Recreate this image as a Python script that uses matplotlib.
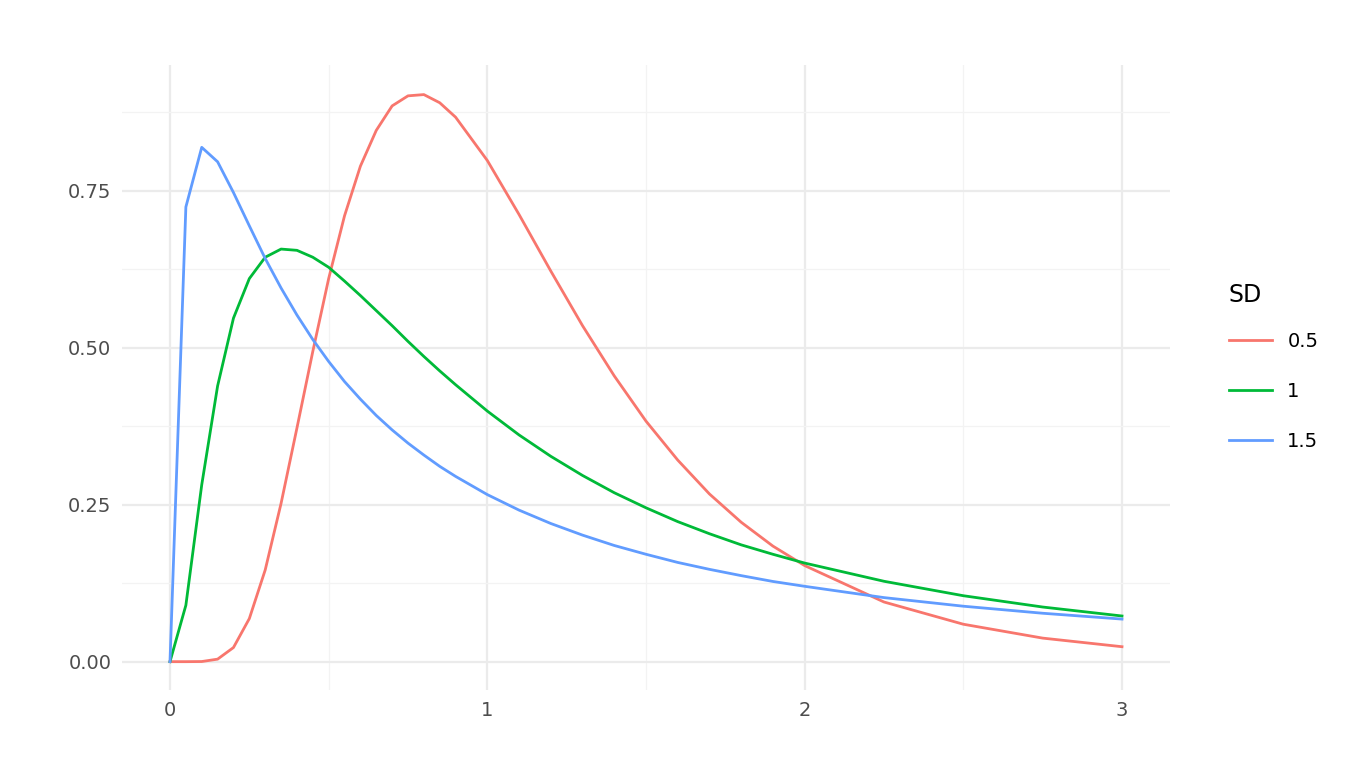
import matplotlib.pyplot as plt
from matplotlib.ticker import MultipleLocator

# values
x = [0, 0.05, 0.1, 0.15, 0.2, 0.25, 0.3, 0.35, 0.4, 0.45, 0.5, 0.55, 0.6, 0.65,
     0.7, 0.75, 0.8, 0.85, 0.9, 1.0, 1.1, 1.2, 1.3, 1.4, 1.5, 1.6, 1.7, 1.8, 1.9,
     2.0, 2.25, 2.5, 2.75, 3.0]
sd_05 = [0, 0, 0.0002, 0.004, 0.0225, 0.0686, 0.146, 0.252, 0.372, 0.494, 0.610,
         0.710, 0.789, 0.846, 0.885, 0.901, 0.903, 0.890, 0.867, 0.798, 0.712,
         0.622, 0.535, 0.455, 0.383, 0.321, 0.267, 0.222, 0.184, 0.153, 0.095,
         0.0596, 0.0375, 0.0238]
sd_1 = [0, 0.0898, 0.2816, 0.439, 0.547, 0.610, 0.644, 0.657, 0.655, 0.644, 0.628,
        0.606, 0.583, 0.559, 0.535, 0.510, 0.486, 0.463, 0.441, 0.399, 0.361,
        0.327, 0.2965, 0.269, 0.245, 0.223, 0.2037, 0.186, 0.171, 0.157, 0.128,
        0.105, 0.087, 0.0727]
sd_15 = [0, 0.724, 0.819, 0.796, 0.747, 0.694, 0.642, 0.595, 0.552, 0.513, 0.478,
         0.446, 0.418, 0.392, 0.369, 0.348, 0.329, 0.311, 0.295, 0.266, 0.2413,
         0.220, 0.2015, 0.185, 0.171, 0.158, 0.147, 0.137, 0.1277, 0.120, 0.102,
         0.0883, 0.0771, 0.0678]
labels = ["0.5", "1", "1.5"]
colors = ["#F8766D", "#00BA38", "#619CFF"]

fig = plt.figure(figsize=(13.6, 7.84), dpi=100)
ax = fig.add_axes([0.09, 0.12, 0.77, 0.797])

for ys, lab, c in zip([sd_05, sd_1, sd_15], labels, colors):
    ax.plot(x, ys, color=c, lw=2, label=lab)

ax.set_xlim(-0.15, 3.15)
ax.set_ylim(-0.045, 0.95)
ax.xaxis.set_major_locator(MultipleLocator(1))
ax.xaxis.set_minor_locator(MultipleLocator(0.5))
ax.yaxis.set_major_locator(MultipleLocator(0.25))
ax.yaxis.set_minor_locator(MultipleLocator(0.125))
ax.yaxis.set_major_formatter(lambda v, p: f"{v:.2f}")
ax.grid(which="major", color="#EBEBEB", lw=1.6)
ax.grid(which="minor", color="#F3F3F3", lw=0.9)
ax.set_axisbelow(True)
for s in ax.spines.values():
    s.set_visible(False)
ax.tick_params(which="both", length=0, labelsize=14, colors="#4D4D4D", pad=8)

leg = ax.legend(title="SD", loc="upper left", bbox_to_anchor=(1.04, 0.68),
                frameon=False, fontsize=14, title_fontsize=17,
                handlelength=2.2, labelspacing=1.6)
leg._legend_box.align = "left"
leg._legend_box.sep = 18

fig.savefig("out.png", dpi=100)
